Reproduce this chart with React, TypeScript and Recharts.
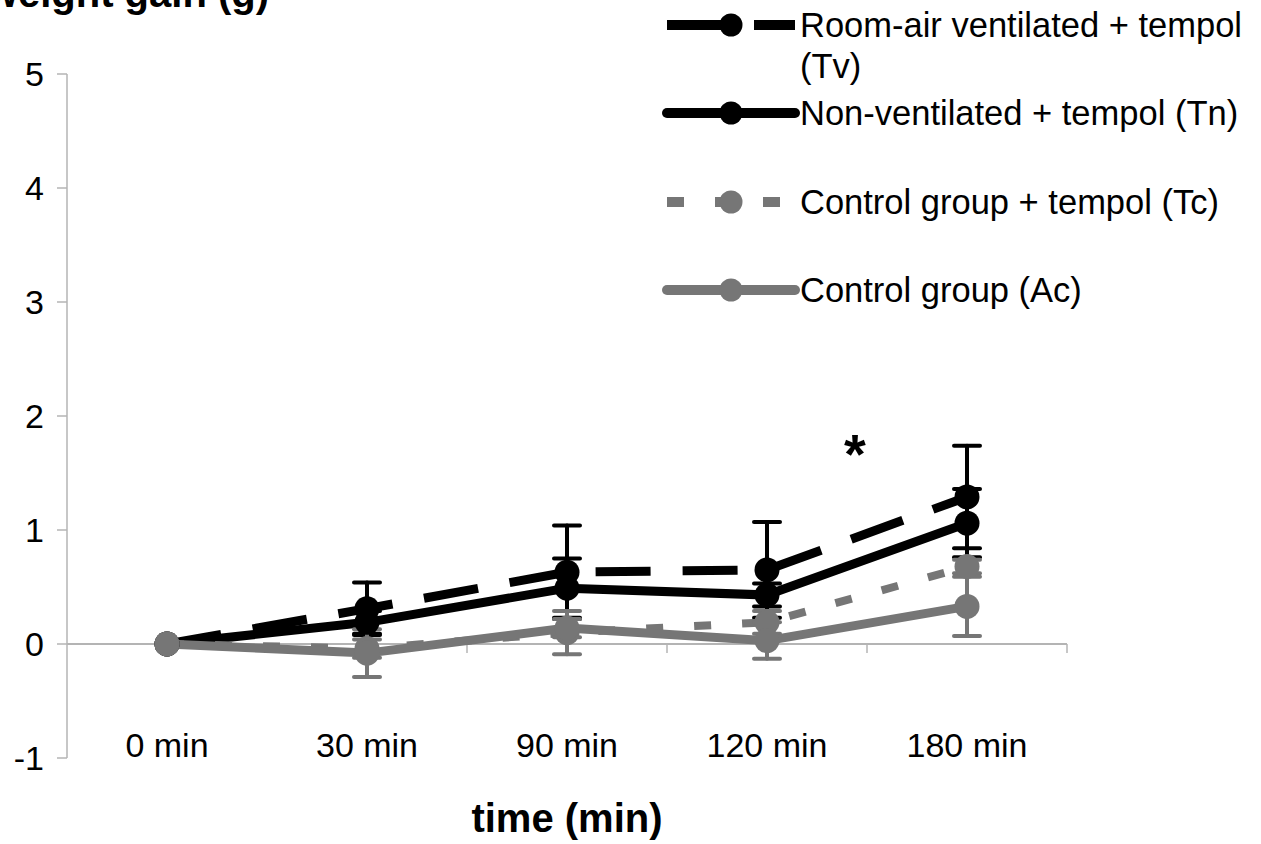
import React from 'react';
import {
  LineChart,
  Line,
  XAxis,
  YAxis,
  ErrorBar,
  ReferenceLine,
  ReferenceDot,
  Legend,
  Label,
} from 'recharts';

const FONT = '"Liberation Sans", Arial, Helvetica, sans-serif';
const AXIS_GREY = '#b4b4b4';
const BLACK = '#000000';
const GREY = '#767676';

// time points and y ticks
const categories = ['0 min', '30 min', '90 min', '120 min', '180 min'];
const yTicks = [-1, 0, 1, 2, 3, 4, 5];

// weight gain (g), mean and error per time point
const tvMean = [0, 0.31, 0.63, 0.65, 1.29];
const tvErr = [0, 0.23, 0.41, 0.42, 0.45];
const tnMean = [0, 0.19, 0.49, 0.43, 1.06];
const tnErr = [0, 0.1, 0.26, 0.1, 0.3];
const tcMean = [0, -0.04, 0.1, 0.19, 0.68];
const tcErr = [0, 0.08, 0.19, 0.1, 0.06];
const acMean = [0, -0.08, 0.14, 0.03, 0.33];
const acErr = [0, 0.21, 0.08, 0.16, 0.26];

// significance marker between 120 and 180 min
const sigMark = { t: 3.44, v: 1.73, text: '*' };

const rows = categories.map((name, i) => ({
  t: i,
  name,
  tv: tvMean[i],
  tvErr: tvErr[i],
  tn: tnMean[i],
  tnErr: tnErr[i],
  tc: tcMean[i],
  tcErr: tcErr[i],
  ac: acMean[i],
  acErr: acErr[i],
}));

type SeriesStyle = {
  key: string;
  errKey: string;
  label: string[];
  color: string;
  dash?: string;
  width: number;
};

const series: SeriesStyle[] = [
  { key: 'tv', errKey: 'tvErr', label: ['Room-air ventilated + tempol', '(Tv)'], color: BLACK, dash: '55 32', width: 9 },
  { key: 'tn', errKey: 'tnErr', label: ['Non-ventilated + tempol (Tn)'], color: BLACK, width: 9 },
  { key: 'tc', errKey: 'tcErr', label: ['Control group + tempol (Tc)'], color: GREY, dash: '17 31', width: 8 },
  { key: 'ac', errKey: 'acErr', label: ['Control group (Ac)'], color: GREY, width: 9 },
];

const legendRowY = [25, 113, 202, 290];

const boundaries = categories.slice(1).map((_, i) => i + 0.5).concat([categories.length - 0.5]);

function LegendBlock() {
  return (
    <svg width={606} height={330} style={{ display: 'block', overflow: 'visible' }}>
      {series.map((s, i) => {
        const cy = legendRowY[i];
        return (
          <g key={s.key}>
            <line
              x1={12}
              x2={140}
              y1={cy}
              y2={cy}
              stroke={s.color}
              strokeWidth={10}
              strokeDasharray={s.dash}
              strokeLinecap={s.dash ? 'butt' : 'round'}
            />
            <circle cx={76} cy={cy} r={11.5} fill={s.color} />
            {s.label.map((txt, j) => (
              <text
                key={j}
                x={145}
                y={cy + 12 + j * 41}
                fontSize={34.5}
                fontFamily={FONT}
                fill="#000"
              >
                {txt}
              </text>
            ))}
          </g>
        );
      })}
    </svg>
  );
}

function CategoryTick(props: any) {
  const { x, y, payload } = props;
  return (
    <text x={x} y={y - 1} textAnchor="middle" fontSize={34} fontFamily={FONT} fill="#000">
      {categories[payload.value]}
    </text>
  );
}

export default function App() {
  return (
    <div style={{ position: 'absolute', left: 0, top: 0, width: 1261, height: 844, background: '#fff' }}>
      <LineChart
        width={1261}
        height={844}
        data={rows}
        margin={{ top: 74, right: 194, bottom: 0, left: 0 }}
      >
        <XAxis
          dataKey="t"
          type="number"
          domain={[-0.5, 4.5]}
          ticks={[0, 1, 2, 3, 4]}
          height={86}
          axisLine={false}
          tickLine={false}
          tickSize={0}
          tickMargin={0}
          tick={<CategoryTick />}
          allowDataOverflow
        >
          <Label
            content={(p: any) => {
              const vb = p.viewBox || { x: 67, y: 758, width: 1000 };
              return (
                <text
                  x={vb.x + vb.width / 2}
                  y={vb.y + 74}
                  textAnchor="middle"
                  fontSize={40}
                  fontWeight="bold"
                  fontFamily={FONT}
                  fill="#000"
                >
                  time (min)
                </text>
              );
            }}
          />
        </XAxis>
        <YAxis
          type="number"
          domain={[-1, 5]}
          ticks={yTicks}
          width={67}
          axisLine={{ stroke: AXIS_GREY, strokeWidth: 1.5 }}
          tickLine={{ stroke: AXIS_GREY, strokeWidth: 1.5 }}
          tickSize={10}
          tickMargin={13}
          tick={{ fill: '#000', fontSize: 34, fontFamily: FONT }}
          allowDataOverflow
        >
          <Label
            content={() => (
              <text x={269} y={7} textAnchor="end" fontSize={40} fontWeight="bold" fontFamily={FONT} fill="#000">
                weight gain (g)
              </text>
            )}
          />
        </YAxis>

        <ReferenceLine y={0} stroke={AXIS_GREY} strokeWidth={2} />
        {boundaries.map((b) => (
          <ReferenceLine
            key={b}
            segment={[
              { x: b, y: 0 },
              { x: b, y: -0.08 },
            ]}
            stroke={AXIS_GREY}
            strokeWidth={1.5}
          />
        ))}

        {series.map((s) => (
          <Line
            key={s.key}
            dataKey={s.key}
            name={s.label.join(' ')}
            stroke={s.color}
            strokeWidth={s.width}
            strokeDasharray={s.dash}
            strokeLinejoin="round"
            dot={{ r: 12.5, fill: s.color, stroke: s.color, strokeWidth: 0 }}
            activeDot={false}
            isAnimationActive={false}
          >
            <ErrorBar
              dataKey={s.errKey}
              direction="y"
              width={13}
              stroke={s.color}
              strokeWidth={4}
              strokeLinecap="round"
              isAnimationActive={false}
            />
          </Line>
        ))}

        <ReferenceDot
          x={sigMark.t}
          y={sigMark.v}
          r={0}
          shape={(p: any) => (
            <text
              x={p.cx}
              y={p.cy + 26}
              textAnchor="middle"
              fontSize={56}
              fontWeight="bold"
              fontFamily={FONT}
              fill="#000"
            >
              {sigMark.text}
            </text>
          )}
        />

        <Legend
          layout="vertical"
          align="center"
          verticalAlign="middle"
          wrapperStyle={{ position: 'absolute', left: 655, top: 0, width: 606, height: 330 }}
          content={() => <LegendBlock />}
        />
      </LineChart>
    </div>
  );
}
